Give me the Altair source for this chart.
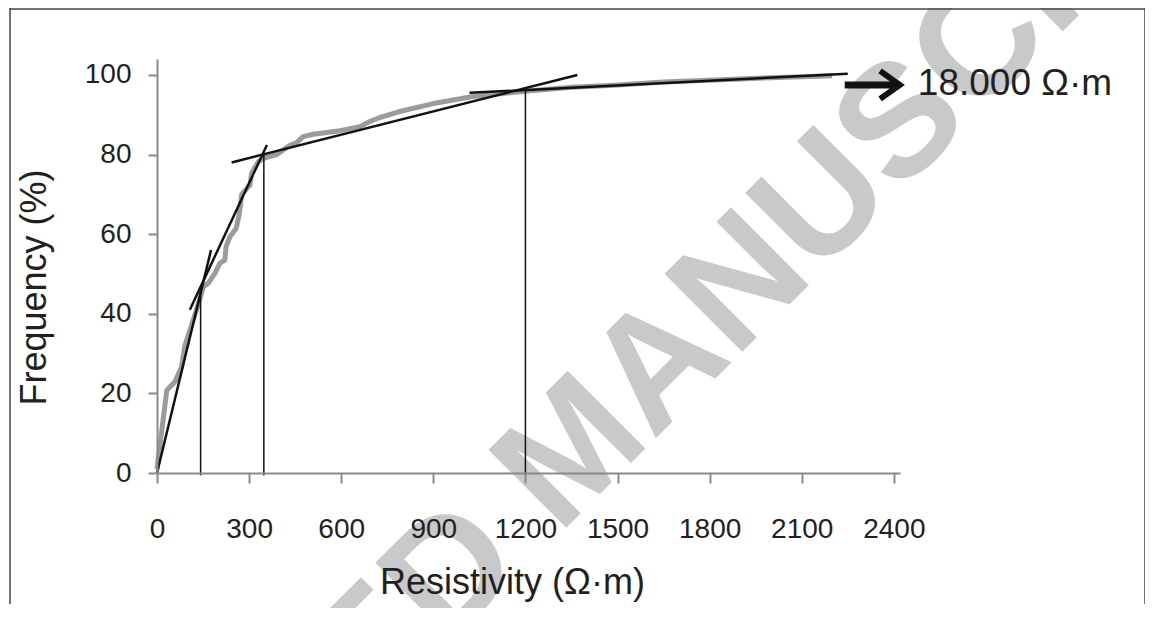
import altair as alt
import pandas as pd

# ---- data ----
curve_x = [0, 8, 32, 59, 80, 91, 129, 151, 167, 189, 205, 221, 225, 238, 258, 268, 276,
           303, 308, 330, 352, 390, 433, 455, 476, 509, 596, 661, 690, 726, 790, 900,
           1024, 1200, 1350, 1489, 1650, 1837, 2000, 2199]
curve_y = [1, 6, 20.8, 23, 26.7, 32, 41, 46.8, 47.7, 50.2, 52.7, 53.5, 56.9, 59.4, 61.5, 65, 70,
           72.4, 75.3, 78.2, 79.2, 80, 82.3, 83, 84.5, 85.1, 86, 87, 88.2, 89.3, 90.8, 92.8,
           94.5, 95.9, 96.9, 97.4, 98.2, 98.8, 99.3, 99.8]

tan_x1 = [0, 107, 243, 1018]
tan_y1 = [0, 41, 78, 95.5]
tan_x2 = [176, 358, 1369, 2250]
tan_y2 = [56, 82.4, 100, 100.3]

vert_x = [142, 348, 1200]
vert_top = [46, 80.5, 96.5]

x_ticks = [0, 300, 600, 900, 1200, 1500, 1800, 2100, 2400]
y_ticks = [0, 20, 40, 60, 80, 100]

arrow_x = [2240, 2419]
arrow_y = [97.5]
note_x = [2478]
note_y = [95]
note_text = ["18.000 Ω·m"]

x_title = "Resistivity (Ω·m)"
y_title = "Frequency (%)"
watermark = "ACCEPTED MANUSCRIPT"

FONT = "Liberation Sans"
INK = "#231f20"

xs = alt.Scale(domain=[0, 2420], nice=False, zero=False)
ys = alt.Scale(domain=[0, 104], nice=False, zero=False)

curve_df = pd.DataFrame({"x": curve_x, "y": curve_y, "i": list(range(len(curve_x)))})
tan_df = pd.DataFrame({"x": tan_x1, "y": tan_y1, "x2": tan_x2, "y2": tan_y2})
vert_df = pd.DataFrame({"x": vert_x, "y": [-0.6] * len(vert_x), "y2": vert_top})
arrow_df = pd.DataFrame({"x": [arrow_x[0]], "x2": [arrow_x[1]], "y": arrow_y})
head_df = pd.DataFrame({"x": [arrow_x[1]], "y": arrow_y})
note_df = pd.DataFrame({"x": note_x, "y": note_y, "t": note_text})
one = pd.DataFrame({"k": [0]})

x_axis = alt.Axis(values=x_ticks, format="d", tickSize=10, labelPadding=54, labelBaseline="alphabetic",
                  labelFlush=False, labelOverlap=False, title=x_title, zindex=1,
                  titleX=355, titleY=120, titleAlign="center", titleBaseline="alphabetic")
y_axis = alt.Axis(values=y_ticks, format="d", tickSize=9, labelPadding=17, labelFlush=False,
                  labelOverlap=False, title=y_title, titleAngle=270, zindex=1,
                  titleX=-112, titleY=228, titleAlign="center", titleBaseline="alphabetic")


def X(field="x"):
    return alt.X(f"{field}:Q", scale=xs, axis=x_axis, title=x_title)


def Y(field="y"):
    return alt.Y(f"{field}:Q", scale=ys, axis=y_axis, title=y_title)


wm = alt.Chart(one).mark_text(
    text=watermark, font=FONT, fontSize=160, fontWeight="bold", color="#c8c9cb",
    angle=315, align="center", baseline="middle"
).encode(x=alt.value(418), y=alt.value(392))

frame_left = alt.Chart(one).mark_rule(color="#444444", strokeWidth=1.5).encode(
    x=alt.value(-147), y=alt.value(-51), y2=alt.value(545))
frame_top = alt.Chart(one).mark_rule(color="#444444", strokeWidth=1.5).encode(
    x=alt.value(-147), x2=alt.value(988), y=alt.value(-50))
frame_right = alt.Chart(one).mark_rule(color="#444444", strokeWidth=1.5).encode(
    x=alt.value(988), y=alt.value(-51), y2=alt.value(545))

curve = alt.Chart(curve_df).mark_line(color="#9b9b9b", strokeWidth=5, strokeJoin="round").encode(
    x=X(), y=Y(), order="i:Q")

tangents = alt.Chart(tan_df).mark_rule(color="#111111", strokeWidth=2.5).encode(
    x=X(), y=Y(), x2="x2:Q", y2="y2:Q")

verts = alt.Chart(vert_df).mark_rule(color="#111111", strokeWidth=1.5).encode(
    x=X(), y=Y(), y2="y2:Q")

shaft = alt.Chart(arrow_df).mark_rule(color="#111111", strokeWidth=7).encode(
    x=X(), x2="x2:Q", y=Y())

head = alt.Chart(head_df).mark_point(
    shape="M -1.4 -1 L 0 0 L -1.4 1", size=784, filled=False, color="#111111",
    strokeWidth=6, opacity=1, strokeJoin="miter"
).encode(x=X(), y=Y())

note = alt.Chart(note_df).mark_text(
    font=FONT, fontSize=37, color=INK, align="left", baseline="alphabetic"
).encode(x=X(), y=Y(), text="t:N")

chart = alt.layer(wm, frame_left, frame_top, frame_right, curve, tangents, verts, shaft, head, note).properties(
    width=743, height=414,
    padding={"left": 149, "top": 51, "right": 245, "bottom": 135},
    autosize=alt.AutoSizeParams(type="none"),
    background="white",
).configure_axis(
    domainColor="#8a8a8a", domainWidth=2, tickColor="#8a8a8a", tickWidth=2, grid=False,
    labelFont=FONT, titleFont=FONT, labelColor=INK, titleColor=INK,
    labelFontSize=28, titleFontSize=36, titleFontWeight="normal",
).configure_view(stroke=None)

chart.save("out.html", embed_options={"renderer": "svg", "actions": False})
